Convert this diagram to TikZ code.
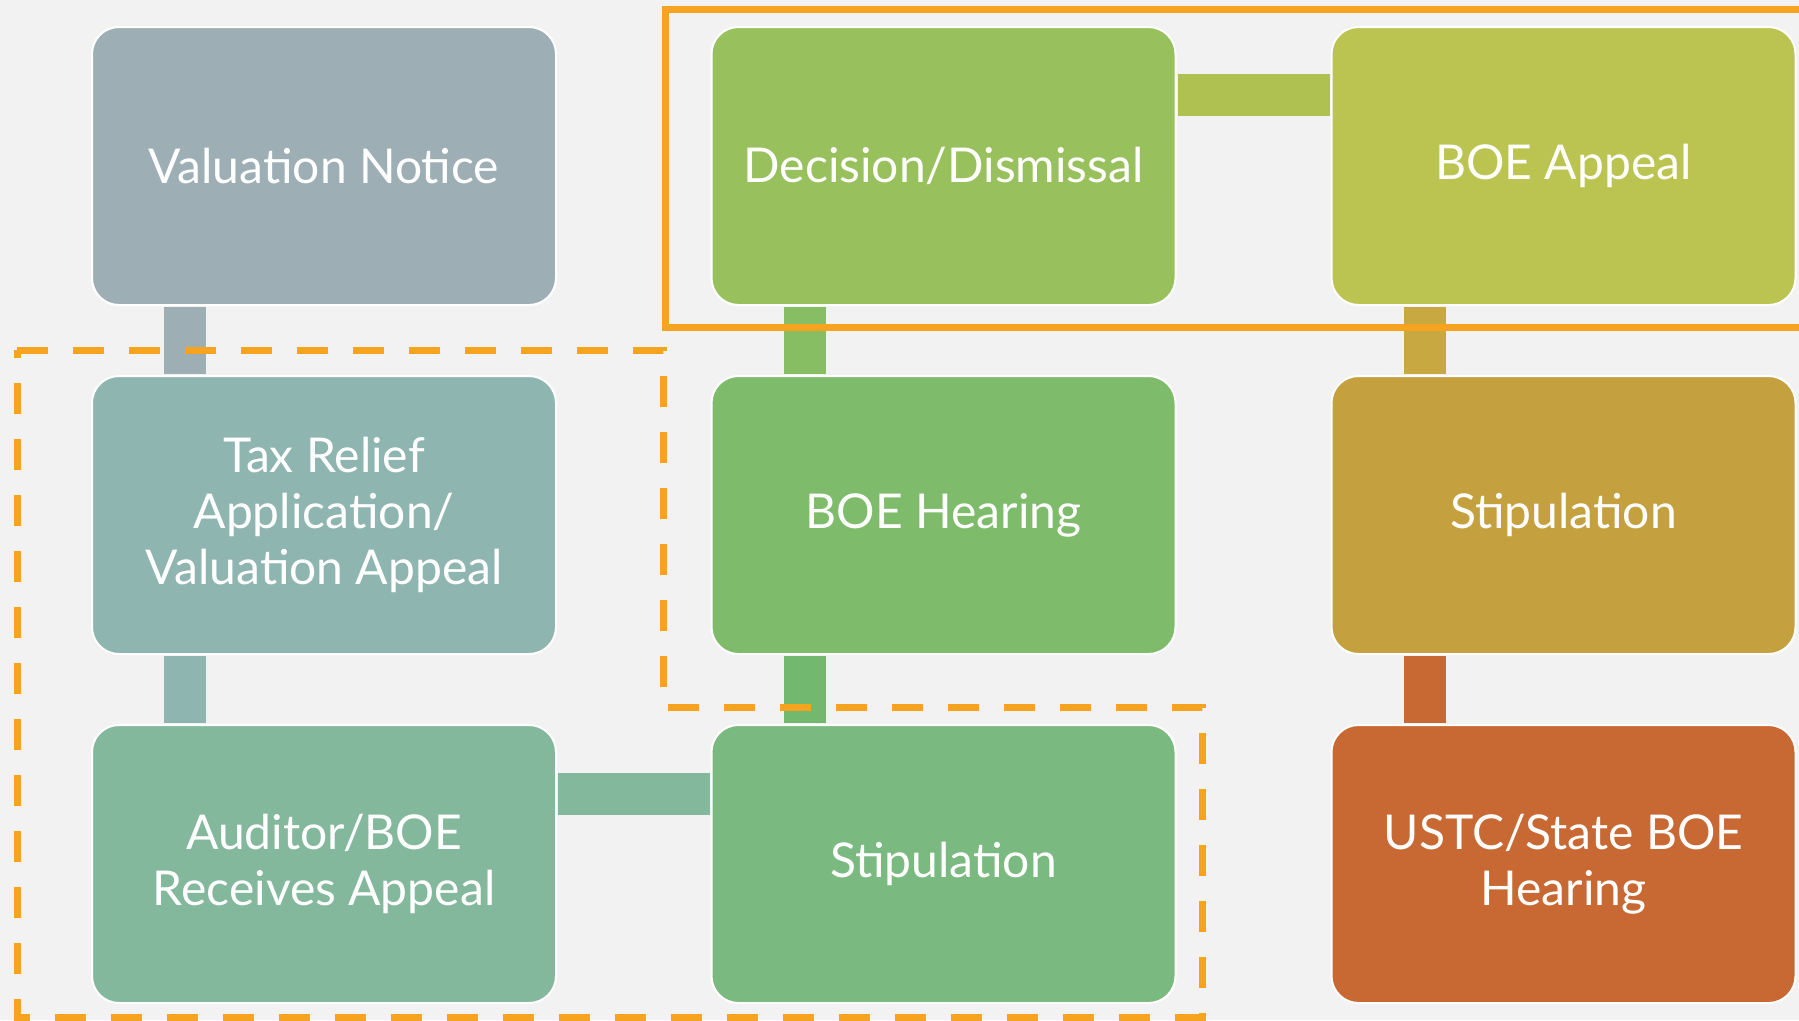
\documentclass[tikz,border=0pt]{standalone}
\usepackage{fontspec}
\setmainfont{Lato}
\definecolor{bg}{HTML}{F2F2F2}
\definecolor{valc}{HTML}{9DAFB5}
\definecolor{taxc}{HTML}{8FB5B0}
\definecolor{audc}{HTML}{84B89C}
\definecolor{stipb}{HTML}{7AB97F}
\definecolor{hearc}{HTML}{7EBC6B}
\definecolor{decic}{HTML}{98C15E}
\definecolor{appec}{HTML}{BBC451}
\definecolor{stipc}{HTML}{C5A03F}
\definecolor{ustcc}{HTML}{C86832}
\definecolor{cdh}{HTML}{87BE63}
\definecolor{chs}{HTML}{72B96F}
\definecolor{cda}{HTML}{AEC151}
\definecolor{cas}{HTML}{C8A840}
\definecolor{orng}{HTML}{F6A31F}
\tikzset{
  stepbox/.style={draw=white, line width=2pt, rounded corners=27pt,
    minimum width=464pt, minimum height=278pt, inner sep=0pt, outer sep=0pt,
    text=white, align=center, font=\fontsize{48}{56}\selectfont},
  vconn/.style={line width=0pt},
  frame/.style={draw=orng, line width=7pt}
}
\begin{document}
\begin{tikzpicture}[x=1pt,y=-1pt]
\fill[bg] (0,0) rectangle (1799,1020);
\useasboundingbox (0,0) rectangle (1799,1020);
\clip (0,0) rectangle (1799,1020);
% boxes
\node[stepbox, fill=valc] (vn) at (324,166) {Valuation Notice};
\node[stepbox, fill=taxc] (tr) at (324,515) {Tax Relief\\Application/\\Valuation Appeal};
\node[stepbox, fill=audc] (au) at (324,864) {Auditor/BOE\\Receives Appeal};
\node[stepbox, fill=decic] (dd) at (943.5,166) {Decision/Dismissal};
\node[stepbox, fill=hearc] (bh) at (943.5,515) {BOE Hearing};
\node[stepbox, fill=stipb] (s2) at (943.5,864) {Stipulation};
\node[stepbox, fill=appec] (ba) at (1563.5,166) {BOE Appeal};
\node[stepbox, fill=stipc] (s3) at (1563.5,515) {Stipulation};
\node[stepbox, fill=ustcc] (us) at (1563.5,864) {USTC/State BOE\\Hearing};
% connectors
\fill[valc] ([xshift=72pt,yshift=-2pt]vn.south west) rectangle ([xshift=114pt,yshift=2pt]tr.north west);
\fill[taxc] ([xshift=72pt,yshift=-2pt]tr.south west) rectangle ([xshift=114pt,yshift=2pt]au.north west);
\fill[audc] ([xshift=2pt,yshift=-48pt]au.north east) rectangle ([xshift=-2pt,yshift=-90pt]s2.north west);
\fill[cdh] ([xshift=72pt,yshift=-2pt]dd.south west) rectangle ([xshift=114pt,yshift=2pt]bh.north west);
\fill[chs] ([xshift=72pt,yshift=-2pt]bh.south west) rectangle ([xshift=114pt,yshift=2pt]s2.north west);
\fill[cda] ([xshift=2pt,yshift=-47pt]dd.north east) rectangle ([xshift=-2pt,yshift=-89pt]ba.north west);
\fill[cas] ([xshift=72pt,yshift=-2pt]ba.south west) rectangle ([xshift=114pt,yshift=2pt]s3.north west);
\fill[ustcc] ([xshift=72pt,yshift=-2pt]s3.south west) rectangle ([xshift=114pt,yshift=2pt]us.north west);
% frames
\draw[frame, dash pattern=on 31pt off 25pt]
  (17,350) -- (663,350) -- (663,707) -- (1202,707) -- (1202,1017) -- (17,1017) -- cycle;
\draw[frame] (665,9) rectangle (1830,327);
\end{tikzpicture}
\end{document}
